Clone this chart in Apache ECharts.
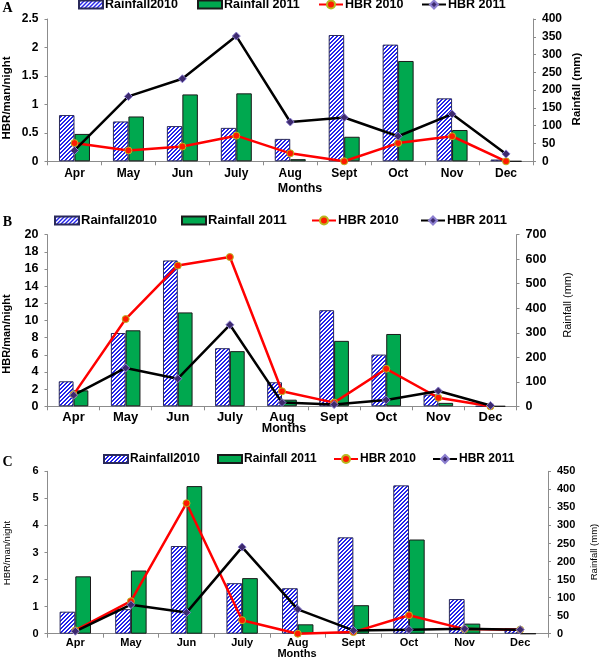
<!DOCTYPE html>
<html><head><meta charset="utf-8">
<script src="https://cdn.jsdelivr.net/npm/echarts@6/dist/echarts.min.js"></script>
<style>html,body{margin:0;padding:0;background:#fff}#c{width:600px;height:657px}</style>
</head><body><div id="c"></div>
<script>
const months = ['Apr','May','Jun','July','Aug','Sept','Oct','Nov','Dec'];
// Panel A
const rainA2010 = [130,112,99,94,63,355,328,177,5];
const rainA2011 = [77,126,188,191,6,69,282,88,0];
const hbrA2010 = [0.32,0.19,0.26,0.45,0.14,0.0,0.32,0.44,0.0];
const hbrA2011 = [0.19,1.14,1.45,2.2,0.69,0.77,0.44,0.83,0.13];
// Panel B
const rainB2010 = [102,299,595,237,98,392,211,48,0];
const rainB2011 = [65,310,383,225,27,267,295,14,0];
const hbrB2010 = [1.36,10.17,16.4,17.4,1.75,0.43,4.37,1.0,0.0];
const hbrB2011 = [1.3,4.47,3.22,9.5,0.43,0.2,0.74,1.79,0.1];
// Panel C
const rainC2010 = [61,68,243,140,126,267,411,96,15];
const rainC2011 = [159,175,409,154,26,79,261,28,0];
const hbrC2010 = [0.12,1.2,4.82,0.5,0.0,0.06,0.68,0.17,0.15];
const hbrC2011 = [0.09,1.07,0.78,3.2,0.9,0.12,0.15,0.18,0.15];

const FONT = '"Liberation Sans", Arial, sans-serif';
function hatch(){
  const n = 4;
  const c = document.createElement('canvas'); c.width = n; c.height = n;
  const ctx = c.getContext('2d');
  const img = ctx.createImageData(n, n);
  for (let y = 0; y < n; y++) for (let x = 0; x < n; x++) {
    const on = ((x + y) % n) < 2;
    const i = (y * n + x) * 4;
    if (on) { img.data[i] = 35; img.data[i+1] = 35; img.data[i+2] = 235; }
    else { img.data[i] = 255; img.data[i+1] = 255; img.data[i+2] = 255; }
    img.data[i+3] = 255;
  }
  ctx.putImageData(img, 0, 0);
  return c;
}
const hatchFill = { image: hatch(), repeat: 'repeat' };
const GREEN = '#00a84f';
const AX = '#8c8c8c';

const grids = [
  { left: 47.5, top: 19, width: 485.5, height: 142.3 },
  { left: 47.5, top: 234.7, width: 469, height: 171.6 },
  { left: 47.5, top: 471.3, width: 500.5, height: 162.4 }
];
const xFs = [12, 13, 11];
const xMargin = [6, 5, 4];
const yFs = [12, 12.5, 11];
const leftMax = [2.5, 20, 6], leftInt = [0.5, 2, 1];
const rightMax = [400, 700, 450], rightInt = [50, 100, 50];

const xAxis = grids.map((g, i) => ({
  type: 'category', gridIndex: i, data: months,
  axisLine: { lineStyle: { color: AX, width: 1 } },
  axisTick: { show: true, length: 4, lineStyle: { color: AX } },
  axisLabel: { fontFamily: FONT, fontWeight: 'bold', fontSize: xFs[i], color: '#000', margin: xMargin[i], interval: 0 }
}));
const yAxis = [];
grids.forEach((g, i) => {
  yAxis.push({
    type: 'value', gridIndex: i, position: 'left', min: 0, max: leftMax[i], interval: leftInt[i],
    axisLine: { show: true, lineStyle: { color: AX } },
    axisTick: { show: true, length: 3, lineStyle: { color: AX } },
    splitLine: { show: false },
    axisLabel: { fontFamily: FONT, fontWeight: 'bold', fontSize: yFs[i], color: '#000', margin: 9 }
  });
  yAxis.push({
    type: 'value', gridIndex: i, position: 'right', min: 0, max: rightMax[i], interval: rightInt[i],
    axisLine: { show: true, lineStyle: { color: AX } },
    axisTick: { show: true, length: 3, lineStyle: { color: AX } },
    splitLine: { show: false },
    axisLabel: { fontFamily: FONT, fontWeight: 'bold', fontSize: yFs[i], color: '#000', margin: 9 }
  });
});

const panels = [
  [rainA2010, rainA2011, hbrA2010, hbrA2011],
  [rainB2010, rainB2011, hbrB2010, hbrB2011],
  [rainC2010, rainC2011, hbrC2010, hbrC2011]
];
const barW = [15.5, 14.8, 15.7];
const series = [];
panels.forEach((p, i) => {
  series.push({
    name: 'Rainfall2010', type: 'bar', xAxisIndex: i, yAxisIndex: 2*i+1, data: p[0],
    barWidth: barW[i], barGap: '0%',
    itemStyle: { color: hatchFill, borderColor: '#2a2a5a', borderWidth: 1 }
  });
  series.push({
    name: 'Rainfall 2011', type: 'bar', xAxisIndex: i, yAxisIndex: 2*i+1, data: p[1],
    barWidth: barW[i], barGap: '0%',
    itemStyle: { color: GREEN, borderColor: '#1a1a1a', borderWidth: 1 }
  });
  series.push({
    name: 'HBR 2010', type: 'line', xAxisIndex: i, yAxisIndex: 2*i, data: p[2],
    symbol: 'circle', symbolSize: 7,
    lineStyle: { color: '#ff0000', width: 2.5 },
    itemStyle: { color: '#ff1a00', borderColor: '#b8b820', borderWidth: 1 }
  });
  series.push({
    name: 'HBR 2011', type: 'line', xAxisIndex: i, yAxisIndex: 2*i, data: p[3],
    symbol: 'diamond', symbolSize: 8,
    lineStyle: { color: '#000000', width: 2.5 },
    itemStyle: { color: '#3d2a6e', borderColor: '#8c7fd0', borderWidth: 1 }
  });
});

const legNames = ['Rainfall2010', 'Rainfall 2011', 'HBR 2010', 'HBR 2011'];
const legLeft = [[78, 197, 318, 421], [54, 181, 311, 420], [103, 217, 333, 432]];
const legTop = [-2, 214, 453];
const legFs = [12.5, 13, 12];
const legend = [];
legLeft.forEach((row, i) => row.forEach((x, j) => {
  const item = { name: legNames[j] };
  if (j < 2) item.icon = 'rect';
  legend.push({
    data: [item], left: x, top: legTop[i], padding: 0, itemGap: 0,
    itemWidth: 24, itemHeight: j < 2 ? 8 : 10,
    textStyle: { fontFamily: FONT, fontWeight: 'bold', fontSize: legFs[i], color: '#000', padding: [0, 0, 0, -3] },
    selectedMode: false
  });
}));

function txt(x, y, text, font, rot) {
  return { type: 'text', x: x, y: y, rotation: rot ? Math.PI / 2 : 0,
    style: { text: text, font: font, fill: '#000', align: 'center', verticalAlign: 'middle' } };
}
const graphic = [
  txt(7.5, 8, 'A', 'bold 14px "Liberation Serif", serif'),
  txt(7.5, 222, 'B', 'bold 14px "Liberation Serif", serif'),
  txt(7.5, 462, 'C', 'bold 14px "Liberation Serif", serif'),
  txt(7, 98, 'HBR/man/night', 'bold 11.5px ' + FONT, true),
  txt(577, 89, 'Rainfall (mm)', 'bold 11.5px ' + FONT, true),
  txt(300, 189, 'Months', 'bold 12.5px ' + FONT),
  txt(7, 334, 'HBR/man/night', 'bold 11px ' + FONT, true),
  txt(568, 305, 'Rainfall (mm)', 'normal 11px ' + FONT, true),
  txt(284, 429, 'Months', 'bold 12.5px ' + FONT),
  txt(7, 553, 'HBR/man/night', 'normal 9.5px ' + FONT, true),
  txt(594, 552, 'Rainfall (mm)', 'normal 9.5px ' + FONT, true),
  txt(297, 654, 'Months', 'bold 11px ' + FONT)
];

const chart = echarts.init(document.getElementById('c'), null, { renderer: 'canvas' });
chart.setOption({
  animation: false,
  backgroundColor: '#fff',
  grid: grids, xAxis: xAxis, yAxis: yAxis, series: series, legend: legend, graphic: graphic
});
</script>
</body></html>
